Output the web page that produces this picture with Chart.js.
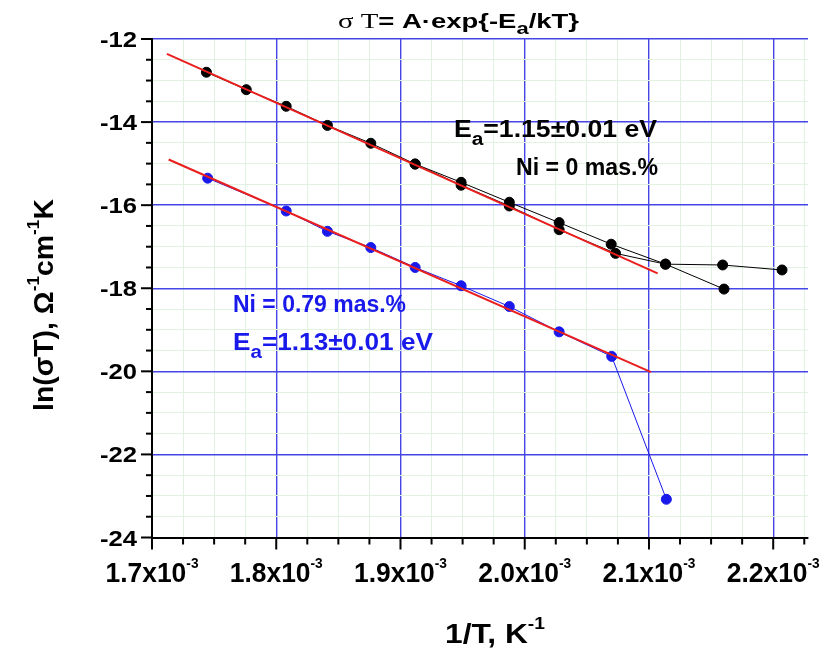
<!DOCTYPE html>
<html>
<head>
<meta charset="utf-8">
<script src="https://cdn.jsdelivr.net/npm/chart.js@4"></script>
<style>
  html, body { margin: 0; padding: 0; background: #fff; }
  #wrap { width: 820px; height: 649px; }
</style>
</head>
<body>
<div id="wrap"><canvas id="c" width="820" height="649"></canvas></div>
<script>
// Ni = 0 mas.% - upper (cooling) branch, 1/T in K^-1, ln(sigma T)
const invT_ni0_a = [1.7438e-3, 1.7759e-3, 1.8080e-3, 1.8412e-3, 1.8761e-3, 1.9118e-3, 1.9488e-3, 1.9876e-3, 2.0277e-3, 2.0696e-3, 2.1133e-3, 2.1593e-3, 2.2071e-3];
const lnST_ni0_a = [-12.80, -13.22, -13.62, -14.08, -14.51, -15.01, -15.45, -15.93, -16.42, -16.94, -17.42, -17.44, -17.56];
// Ni = 0 mas.% - lower branch
const invT_ni0_b = [1.9118e-3, 1.9488e-3, 1.9876e-3, 2.0277e-3, 2.0731e-3, 2.1133e-3, 2.1604e-3];
const lnST_ni0_b = [-15.01, -15.52, -16.02, -16.59, -17.16, -17.42, -18.02];
// Ni = 0.79 mas.%
const invT_ni79 = [1.7448e-3, 1.8080e-3, 1.8412e-3, 1.8761e-3, 1.9118e-3, 1.9488e-3, 1.9876e-3, 2.0277e-3, 2.0700e-3, 2.1140e-3];
const lnST_ni79 = [-15.35, -16.14, -16.63, -17.02, -17.50, -17.94, -18.44, -19.05, -19.64, -23.08];
// linear fits (Arrhenius)
const fit_ni0_x = [1.712e-3, 2.107e-3];
const fit_ni0_y = [-12.36, -17.64];
const fit_ni79_x = [1.7134e-3, 2.1017e-3];
const fit_ni79_y = [-14.90, -20.02];

// axes
const xMajor = [1.7e-3, 1.8e-3, 1.9e-3, 2.0e-3, 2.1e-3, 2.2e-3];
const xTickLabels = ['1.7', '1.8', '1.9', '2.0', '2.1', '2.2'];
const yMajor = [-12, -14, -16, -18, -20, -22, -24];
const yTickLabels = ['-12', '-14', '-16', '-18', '-20', '-22', '-24'];

const SANS = '"Liberation Sans", Arial, sans-serif';
const SERIF = '"Liberation Serif", "Times New Roman", serif';
const BLUE_GRID = 'rgb(70,70,232)';
const MINOR_GRID = 'rgb(226,242,226)';
const BLUE = 'rgb(25,25,235)';
const RED = 'rgb(235,30,30)';

// minor grid every 0.025e-3 and 0.5
const xGrid = [];
for (let i = 0; i <= 21; i++) xGrid.push((1700 + 25 * i) / 1e6);
const yGrid = [];
for (let i = 0; i <= 24; i++) yGrid.push(-24 + 0.5 * i);

const isMajorX = v => Math.abs(v * 1e4 - Math.round(v * 1e4)) < 1e-6;
const isMajorY = v => Math.abs(v / 2 - Math.round(v / 2)) < 1e-9;

const pts = (xs, ys) => xs.map((x, i) => ({ x: x, y: ys[i] }));

// draws text made of several pieces (sub/superscripts), squeezed to a width
function rich(ctx, parts, x, y, width, align) {
    let w = 0;
    parts.forEach(p => { ctx.font = p.f; p.w = ctx.measureText(p.t).width; w += p.w; });
    const sx = width ? width / w : 1;
    ctx.save();
    ctx.translate(x, y);
    ctx.scale(sx, 1);
    ctx.textAlign = 'left';
    ctx.textBaseline = 'alphabetic';
    let cx = align === 'center' ? -w / 2 : (align === 'right' ? -w : 0);
    parts.forEach(p => {
        ctx.font = p.f;
        ctx.fillText(p.t, cx, p.dy || 0);
        cx += p.w;
    });
    ctx.restore();
}

const decor = {
    id: 'decor',
    afterDraw(chart) {
        const ctx = chart.ctx;
        const xs = chart.scales.x, ys = chart.scales.y;
        const area = chart.chartArea;
        ctx.save();
        // tick marks
        ctx.strokeStyle = '#000';
        ctx.lineWidth = 2;
        xGrid.forEach(v => {
            const p = xs.getPixelForValue(v);
            ctx.beginPath();
            ctx.moveTo(p, area.bottom);
            ctx.lineTo(p, area.bottom + (isMajorX(v) ? 12 : 7));
            ctx.stroke();
        });
        yGrid.forEach(v => {
            const p = ys.getPixelForValue(v);
            ctx.beginPath();
            ctx.moveTo(area.left, p);
            ctx.lineTo(area.left - (isMajorY(v) ? 11 : 6), p);
            ctx.stroke();
        });
        ctx.fillStyle = '#000';
        // x tick labels
        xMajor.forEach((v, i) => {
            rich(ctx, [
                { t: xTickLabels[i] + 'x10', f: `bold 27px ${SANS}` },
                { t: '-3', f: `bold 14px ${SANS}`, dy: -14 }
            ], xs.getPixelForValue(v), 582, 93, 'center');
        });
        // y tick labels
        yMajor.forEach((v, i) => {
            rich(ctx, [{ t: yTickLabels[i], f: `bold 22px ${SANS}` }],
                137, ys.getPixelForValue(v) + 8, 37, 'right');
        });
        // title
        rich(ctx, [
            { t: 'σ T', f: `21px ${SERIF}` },
            { t: '= A·exp{-E', f: `bold 20px ${SANS}` },
            { t: 'a', f: `bold 16px ${SANS}`, dy: 6 },
            { t: '/kT}', f: `bold 20px ${SANS}` }
        ], 338, 28, 241);
        // x axis title
        rich(ctx, [
            { t: '1/T, K', f: `bold 28px ${SANS}` },
            { t: '-1', f: `bold 17px ${SANS}`, dy: -14 }
        ], 445, 643, 100);
        // y axis title
        ctx.save();
        ctx.translate(53, 411);
        ctx.rotate(-Math.PI / 2);
        rich(ctx, [
            { t: 'ln(σT), Ω', f: `bold 28px ${SANS}` },
            { t: '-1', f: `bold 17px ${SANS}`, dy: -14 },
            { t: 'cm', f: `bold 28px ${SANS}` },
            { t: '-1', f: `bold 17px ${SANS}`, dy: -14 },
            { t: 'K', f: `bold 28px ${SANS}` }
        ], 0, 0, 212);
        ctx.restore();
        // annotations
        ctx.fillStyle = '#000';
        rich(ctx, [
            { t: 'E', f: `bold 23px ${SANS}` },
            { t: 'a', f: `bold 18px ${SANS}`, dy: 8 },
            { t: '=1.15±0.01 eV', f: `bold 23px ${SANS}` }
        ], 454, 137, 203);
        rich(ctx, [{ t: 'Ni = 0 mas.%', f: `bold 23px ${SANS}` }], 516, 175, 142);
        ctx.fillStyle = BLUE;
        rich(ctx, [{ t: 'Ni = 0.79 mas.%', f: `bold 23px ${SANS}` }], 233, 311.5, 173);
        rich(ctx, [
            { t: 'E', f: `bold 23px ${SANS}` },
            { t: 'a', f: `bold 18px ${SANS}`, dy: 8 },
            { t: '=1.13±0.01 eV', f: `bold 23px ${SANS}` }
        ], 233, 350, 200);
        ctx.restore();
    }
};

new Chart(document.getElementById('c'), {
    type: 'line',
    data: {
        datasets: [
            {
                data: pts(fit_ni0_x, fit_ni0_y),
                borderColor: RED, borderWidth: 2, pointRadius: 0, order: 0
            },
            {
                data: pts(fit_ni79_x, fit_ni79_y),
                borderColor: RED, borderWidth: 2, pointRadius: 0, order: 0
            },
            {
                data: pts(invT_ni0_a, lnST_ni0_a),
                borderColor: '#000', borderWidth: 1, pointRadius: 5,
                pointBackgroundColor: '#000', pointBorderColor: '#000', order: 2
            },
            {
                data: pts(invT_ni0_b, lnST_ni0_b),
                borderColor: '#000', borderWidth: 1, pointRadius: 5,
                pointBackgroundColor: '#000', pointBorderColor: '#000', order: 3
            },
            {
                data: pts(invT_ni79, lnST_ni79),
                borderColor: BLUE, borderWidth: 1, pointRadius: 5,
                pointBackgroundColor: BLUE, pointBorderColor: BLUE, order: 2
            }
        ]
    },
    options: {
        responsive: false,
        animation: false,
        devicePixelRatio: 1,
        layout: { padding: { top: 39, right: 12, left: 0, bottom: 0 } },
        plugins: {
            legend: { display: false },
            tooltip: { enabled: false },
            title: { display: false }
        },
        scales: {
            x: {
                type: 'linear',
                min: 1.7e-3,
                max: 2.228e-3,
                afterBuildTicks: s => { s.ticks = xGrid.map(v => ({ value: v })); },
                afterFit: s => { s.height = 111.5; },
                ticks: { display: false },
                grid: {
                    color: c => isMajorX(c.tick.value) ? BLUE_GRID : MINOR_GRID,
                    lineWidth: c => isMajorX(c.tick.value) ? 1.4 : 1,
                    drawTicks: false
                },
                border: { color: '#000', width: 2 }
            },
            y: {
                type: 'linear',
                min: -24,
                max: -12,
                afterBuildTicks: s => { s.ticks = yGrid.map(v => ({ value: v })); },
                afterFit: s => { s.width = 152; },
                ticks: { display: false },
                grid: {
                    color: c => isMajorY(c.tick.value) ? BLUE_GRID : MINOR_GRID,
                    lineWidth: c => isMajorY(c.tick.value) ? 1.4 : 1,
                    drawTicks: false
                },
                border: { color: '#000', width: 2 }
            }
        }
    },
    plugins: [decor]
});
</script>
</body>
</html>
